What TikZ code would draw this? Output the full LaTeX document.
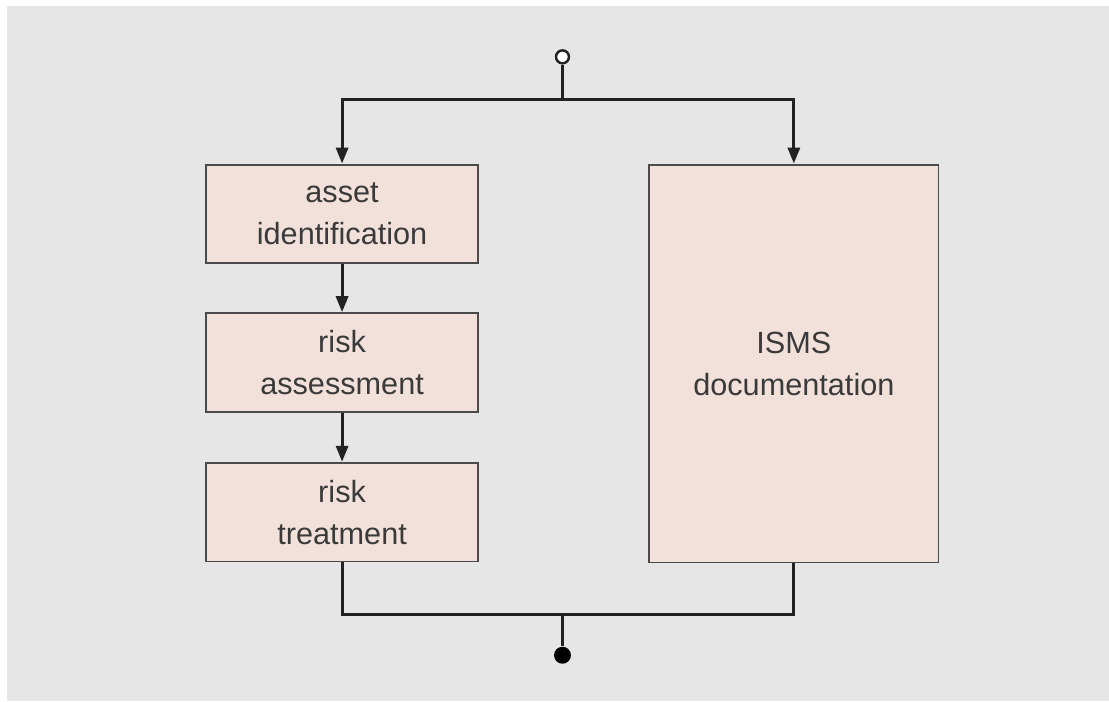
\documentclass[tikz,border=0pt]{standalone}
\usepackage{fontspec}
\setmainfont{Liberation Sans}
\usetikzlibrary{arrows.meta}

\definecolor{bggray}{HTML}{E6E6E6}
\definecolor{boxfill}{HTML}{F2E1DA}
\definecolor{boxline}{HTML}{4A4A4A}
\definecolor{txtgray}{HTML}{3A3A3A}
\definecolor{linedark}{HTML}{222222}

\begin{document}
\begin{tikzpicture}[x=0.02cm, y=-0.02cm,
	every node/.style={font=\fontsize{17.5}{24}\selectfont, text=txtgray},
	stepbox/.style={draw=boxline, line width=1.1pt, fill=boxfill, align=center, inner sep=0pt},
	flow/.style={draw=linedark, line width=1.8pt},
	>={Triangle[length=0.32cm, width=0.24cm]}]
	% background
	\fill[bggray] (7,6) rectangle (1112,703);
	\useasboundingbox (0,0) rectangle (1109,700);
	% boxes
	\node[stepbox, minimum width=272*0.02cm, minimum height=99*0.02cm] (asset) at (343,214.5) {asset\\identification};
	\node[stepbox, minimum width=272*0.02cm, minimum height=99*0.02cm] (assess) at (343,363.5) {risk\\assessment};
	\node[stepbox, minimum width=272*0.02cm, minimum height=99*0.02cm] (treat) at (343,513.5) {risk\\treatment};
	\node[stepbox, minimum width=290*0.02cm, minimum height=399*0.02cm] (isms) at (796,364.5) {ISMS\\documentation};
	% start and end
	\node[circle, draw=linedark, line width=1.4pt, fill=white, minimum size=13*0.02cm, inner sep=0pt] (start) at (564,57) {};
	\node[circle, fill=black, minimum size=17*0.02cm, inner sep=0pt] (stop) at (564,657) {};
	\coordinate (split) at (564,100);
	\coordinate (merge) at (564,616);
	% connectors
	\draw[flow] (start) -- (split);
	\draw[flow, ->] (split) -| (asset.north);
	\draw[flow, ->] (split) -| (isms.north);
	\draw[flow, ->] (asset) -- (assess);
	\draw[flow, ->] (assess) -- (treat);
	\draw[flow] (treat.south) |- (merge) -| (isms.south);
	\draw[flow] (merge) -- (stop);
\end{tikzpicture}
\end{document}
